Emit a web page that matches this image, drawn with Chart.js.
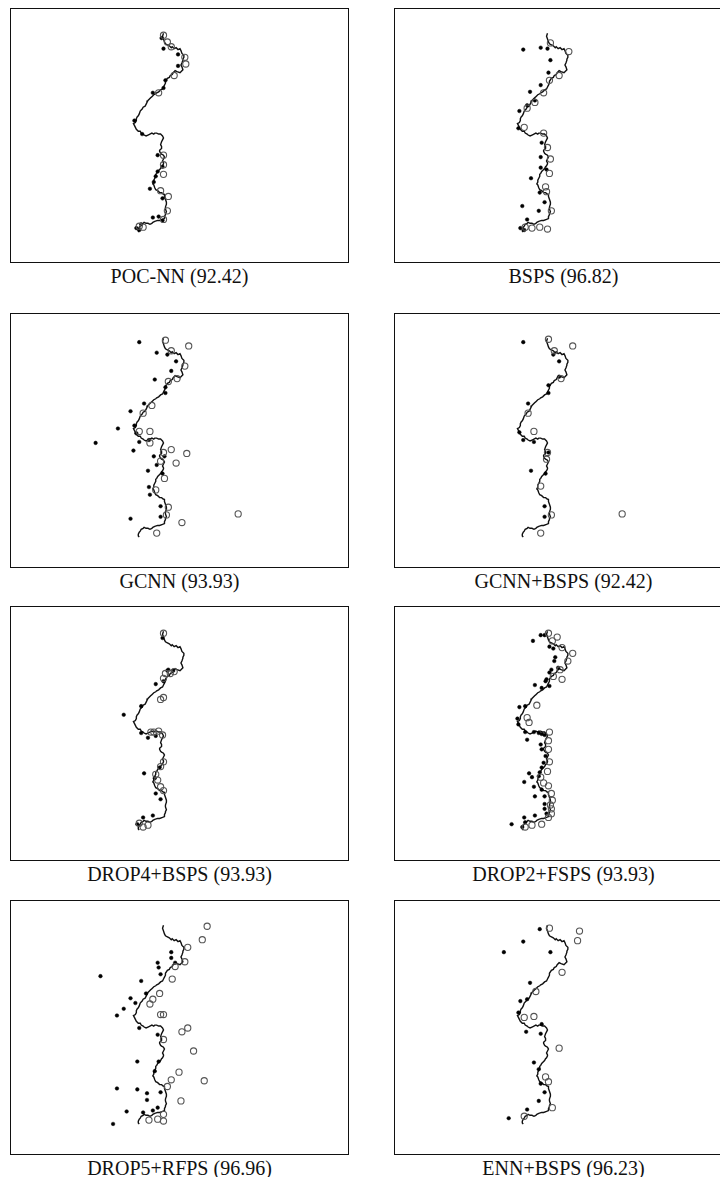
<!DOCTYPE html>
<html>
<head>
<meta charset="utf-8">
<script src="https://cdn.jsdelivr.net/npm/chart.js@4/dist/chart.umd.min.js"></script>
<style>
  body { margin: 0; background: #fff; width: 720px; height: 1177px; overflow: hidden; position: relative; }
  .panel { position: absolute; width: 339px; height: 255px; border: 1px solid #111; box-sizing: border-box; background: #fff; }
  .label { position: absolute; width: 339px; text-align: center; font-family: "Liberation Serif", serif; font-size: 20px; line-height: 20px; color: #111; white-space: nowrap; }
</style>
</head>
<body>
<script>
// shared class boundary (same in every panel), feature units
const boundary = [
  [152,20],[151,23],[152,26],[153,29],[154,31],[156,32],[158,33],[160,35],[161,34],[163,36],[165,35],[167,37],
  [169,36],[170,38],[171,41],[173,43],[173,45],[172,47],[172,48],[171,51],[170,53],[171,55],[172,58],[170,60],
  [169,61],[166,60],[164,59],[162,61],[161,63],[159,64],[158,66],[156,67],[154,70],[154,72],[153,74],[152,76],
  [151,78],[149,79],[147,81],[145,82],[144,83],[142,84],[140,86],[139,87],[138,88],[136,90],[135,92],[134,94],
  [133,96],[131,97],[130,99],[129,100],[128,101],[127,104],[126,106],[125,107],[124,109],[124,111],[123,113],[121,114],
  [122,116],[123,118],[124,120],[126,122],[128,122],[129,124],[131,125],[132,126],[134,127],[136,126],[138,125],[140,124],
  [142,125],[143,124],[145,124],[147,125],[149,125],[150,126],[151,127],[152,129],[151,131],[150,133],[149,136],[150,138],
  [150,140],[148,142],[148,143],[149,145],[150,146],[152,147],[153,149],[152,151],[151,153],[152,155],[152,156],[151,158],
  [150,159],[149,161],[148,162],[147,163],[146,164],[145,166],[144,167],[144,169],[143,171],[142,173],[142,175],[141,177],
  [142,178],[143,181],[144,183],[146,184],[148,186],[150,186],[151,187],[153,188],[153,190],[154,193],[155,196],[155,198],
  [154,201],[154,203],[155,206],[154,208],[154,209],[153,211],[153,213],[151,214],[148,215],[146,215],[143,216],[141,217],
  [140,218],[138,219],[136,218],[134,218],[132,217],[131,218],[129,219],[128,221],[127,222],[126,224],[126,226],[127,227]
];

// prototypes kept by each method: class A (filled) and class B (open)
const pocnnFilled = [[150,25],[152,36],[167,42],[167,54],[154,69],[152,77],[141,82],[122,111],[130,125],[146,147],
  [151,159],[146,164],[144,169],[142,175],[138,182],[151,192],[141,212],[147,211],[151,215],[129,219],[124,223],[127,225]];
const pocnnOpen = [[152,22],[156,29],[160,34],[174,45],[175,52],[163,64],[147,82],[152,147],[152,157],[152,167],
  [149,184],[157,190],[156,205],[152,214],[131,222],[127,221]];

const bspsFilled = [[127,37],[145,35],[152,36],[155,48],[153,61],[145,74],[134,81],[139,90],[131,95],[123,101],
  [122,119],[146,134],[145,149],[145,160],[151,162],[135,171],[144,186],[126,200],[143,205],[149,196],[131,214],[124,223],[128,225]];
const bspsOpen = [[155,30],[174,39],[164,64],[154,69],[148,82],[139,92],[131,98],[128,118],[148,124],[152,139],
  [155,151],[154,166],[150,180],[151,185],[156,205],[152,224],[144,222],[136,223],[129,222]];

const gcnnFilled = [[127,24],[145,35],[156,37],[165,44],[160,54],[143,63],[154,71],[154,77],[132,88],[118,96],
  [105,114],[122,111],[124,119],[82,129],[127,128],[137,126],[121,137],[142,143],[153,143],[145,152],
  [136,158],[151,161],[137,175],[138,183],[149,195],[149,206],[118,208]];
const gcnnOpen = [[154,22],[178,28],[160,33],[174,49],[166,62],[157,65],[140,90],[131,98],[138,117],[127,117],
  [138,129],[160,136],[176,140],[152,139],[149,148],[165,150],[153,166],[144,178],[157,196],[155,204],
  [229,203],[171,212],[145,223]];

const gcnnBspsFilled = [[127,24],[158,37],[164,44],[164,60],[153,69],[153,77],[132,88],[123,118],[127,126],[138,128],
  [153,139],[135,158],[150,161],[149,195],[149,206]];
const gcnnBspsOpen = [[153,21],[178,28],[159,33],[166,62],[132,98],[138,117],[152,139],[151,146],[145,174],[156,204],
  [229,203],[145,223]];

const drop4Filled = [[151,27],[156,61],[162,61],[157,60],[152,72],[144,75],[129,98],[111,107],[129,126],[136,131],
  [144,129],[148,162],[132,168],[143,173],[144,189],[149,195],[141,212],[131,214],[125,221]];
const drop4Open = [[152,22],[154,64],[159,64],[163,62],[152,69],[152,89],[149,91],[147,124],[142,125],[139,125],
  [151,128],[152,156],[149,161],[144,169],[146,175],[149,182],[152,186],[127,220],[136,222],[131,224]];

const drop2Filled = [[137,30],[145,24],[149,24],[154,36],[158,38],[160,47],[159,51],[163,58],[156,60],[154,63],
  [151,70],[150,72],[139,76],[146,79],[154,77],[129,98],[123,99],[121,111],[122,117],[129,125],
  [138,125],[143,126],[146,127],[149,128],[131,133],[145,138],[146,143],[150,150],[148,157],[146,162],
  [144,167],[143,171],[133,168],[136,172],[128,177],[138,182],[146,185],[139,192],[149,192],[149,200],
  [149,205],[151,210],[139,212],[128,214],[115,221],[126,224],[129,219]];
const drop2Open = [[153,22],[162,26],[157,30],[167,37],[178,43],[173,51],[165,60],[167,70],[158,67],[141,97],
  [131,110],[133,115],[154,125],[153,134],[153,143],[154,156],[152,166],[145,172],[148,178],[153,181],
  [156,189],[157,196],[155,201],[156,205],[156,210],[153,214],[146,221],[136,222],[129,224]];

const drop5Filled = [[160,48],[160,54],[164,59],[146,59],[147,64],[149,71],[87,73],[129,78],[134,91],[118,96],
  [123,101],[111,107],[104,114],[127,127],[146,134],[125,162],[147,162],[143,172],[104,190],[125,191],
  [135,195],[149,194],[135,202],[146,210],[141,213],[131,215],[114,214],[100,227]];
const drop5Open = [[197,21],[192,35],[177,43],[174,58],[164,63],[161,76],[148,91],[141,97],[138,102],[149,113],
  [152,113],[171,131],[177,127],[152,139],[183,151],[168,173],[160,181],[194,182],[156,188],[170,203],
  [152,217],[152,224],[146,222],[137,223]];

const ennFilled = [[144,24],[127,37],[107,48],[155,48],[134,80],[131,97],[124,99],[122,111],[146,123],[145,133],
  [130,131],[138,163],[143,170],[145,185],[149,194],[143,203],[131,212],[112,221]];
const ennOpen = [[154,23],[185,26],[183,36],[167,69],[140,89],[128,116],[138,115],[164,148],[150,178],[153,183],
  [157,210],[128,219]];

const panelTitles = ['POC-NN (92.42)', 'BSPS (96.82)', 'GCNN (93.93)', 'GCNN+BSPS (92.42)',
  'DROP4+BSPS (93.93)', 'DROP2+FSPS (93.93)', 'DROP5+RFPS (96.96)', 'ENN+BSPS (96.23)'];
const panelFilled = [pocnnFilled, bspsFilled, gcnnFilled, gcnnBspsFilled, drop4Filled, drop2Filled, drop5Filled, ennFilled];
const panelOpen = [pocnnOpen, bspsOpen, gcnnOpen, gcnnBspsOpen, drop4Open, drop2Open, drop5Open, ennOpen];

// page layout
const colLeft = [10, 394];
const rowTop = [8, 313, 606, 900];

const toXY = arr => arr.map(p => ({ x: p[0], y: p[1] }));

panelTitles.forEach((title, i) => {
  const left = colLeft[i % 2];
  const top = rowTop[Math.floor(i / 2)];

  const box = document.createElement('div');
  box.className = 'panel';
  box.style.left = left + 'px';
  box.style.top = top + 'px';
  const canvas = document.createElement('canvas');
  canvas.width = 337;
  canvas.height = 253;
  box.appendChild(canvas);
  document.body.appendChild(box);

  const label = document.createElement('div');
  label.className = 'label';
  label.style.left = left + 'px';
  label.style.top = (top + 258) + 'px';
  label.textContent = title;
  document.body.appendChild(label);

  new Chart(canvas.getContext('2d'), {
    type: 'scatter',
    data: {
      datasets: [{
        data: toXY(panelOpen[i]),
        pointRadius: 3.1,
        pointBorderWidth: 1.1,
        pointBorderColor: '#555',
        pointBackgroundColor: 'rgba(255,255,255,0)'
      }, {
        data: toXY(panelFilled[i]),
        pointRadius: 1.8,
        pointBorderWidth: 0.5,
        pointBorderColor: '#000',
        pointBackgroundColor: '#000'
      }, {
        data: toXY(boundary),
        showLine: true,
        borderColor: '#111',
        borderWidth: 1.4,
        pointRadius: 0,
        tension: 0
      }]
    },
    options: {
      responsive: false,
      animation: false,
      layout: { padding: 0 },
      plugins: { legend: { display: false }, tooltip: { enabled: false } },
      scales: {
        x: { display: false, min: 0, max: 337 },
        y: { display: false, min: 0, max: 253, reverse: true }
      }
    }
  });
});
</script>
</body>
</html>
